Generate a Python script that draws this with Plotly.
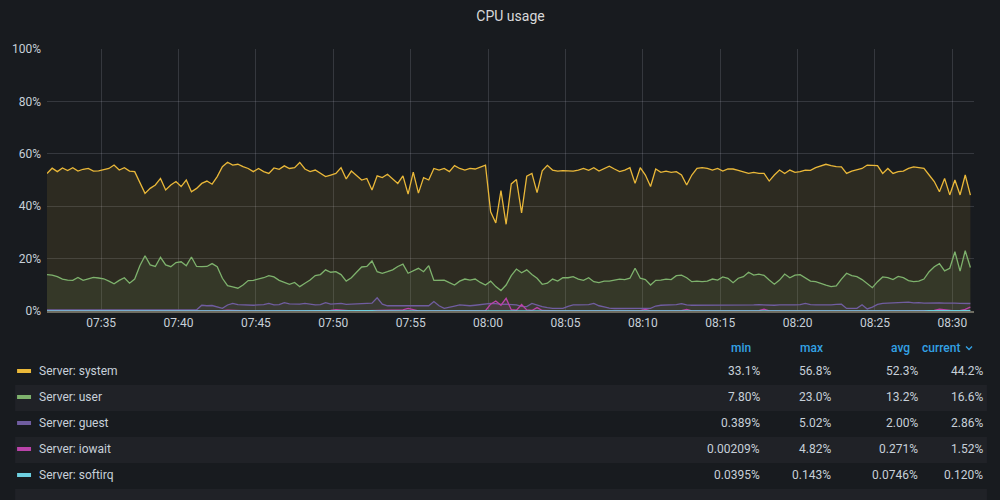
import plotly.graph_objects as go
import pandas as pd

# ---------------- data ----------------
start_time = "2024-01-01 07:31:30"
n_points = 180
step = "20s"

series_names = ["Server: system", "Server: user", "Server: guest", "Server: iowait", "Server: softirq"]
series_colors = ["#EAB839", "#7EB26D", "#705DA0", "#BA43A9", "#6ED0E0"]

system = [
    52.5, 54.5, 53.2, 54.6, 53.6, 54.7, 53.4, 54.1, 54.4, 53.4, 53.5, 53.9, 54.4, 55.7, 53.8, 54.7, 53.4, 53.2, 48.7, 44.9,
    46.8, 48.1, 50.6, 46.2, 48.1, 49.4, 47.5, 50.0, 45.5, 46.8, 48.7, 49.6, 48.4, 51.3, 55.1, 56.8, 55.7, 56.0, 55.1, 54.4,
    53.2, 54.4, 53.2, 52.5, 54.6, 54.1, 55.4, 54.4, 54.7, 56.7, 54.2, 53.2, 53.8, 52.5, 51.3, 51.9, 52.5, 54.7, 50.4, 53.4,
    51.6, 50.0, 50.6, 46.2, 51.6, 50.9, 52.2, 50.6, 48.7, 51.6, 44.6, 53.0, 45.0, 50.9, 50.0, 54.4, 53.8, 54.4, 53.2, 55.5,
    54.4, 53.8, 54.4, 54.2, 55.1, 55.7, 37.9, 33.6, 46.0, 33.1, 48.5, 50.2, 37.4, 51.5, 52.5, 45.2, 53.5, 55.6, 53.8, 53.4,
    53.6, 53.4, 53.4, 53.8, 54.4, 53.7, 54.7, 53.4, 54.2, 55.3, 54.2, 53.2, 53.8, 54.7, 48.7, 54.7, 51.9, 47.5, 54.2, 52.9,
    53.4, 52.9, 53.2, 51.9, 48.1, 51.9, 54.4, 54.7, 54.4, 53.8, 54.4, 53.4, 54.2, 54.2, 53.7, 53.2, 52.5, 52.9, 52.5, 52.5,
    49.6, 51.9, 53.8, 52.5, 53.8, 52.9, 53.2, 53.8, 53.7, 54.7, 55.5, 56.0, 55.5, 55.1, 55.0, 52.5, 53.4, 53.8, 54.4, 55.7,
    55.5, 55.5, 52.5, 54.4, 52.5, 53.2, 53.4, 54.4, 55.0, 54.7, 54.4, 51.9, 49.4, 45.5, 50.6, 44.3, 50.0, 44.3, 51.9, 44.2,
]

user = [
    13.9, 13.7, 13.1, 12.2, 11.8, 11.7, 12.8, 11.7, 12.3, 12.8, 12.6, 12.3, 11.4, 10.4, 11.7, 12.7, 10.6, 12.2, 17.3, 21.1,
    17.6, 17.0, 20.5, 17.6, 16.9, 18.5, 18.8, 17.3, 20.6, 17.0, 16.9, 17.0, 18.1, 16.9, 12.5, 9.7, 9.2, 8.7, 9.9, 11.6,
    11.7, 12.2, 12.7, 13.5, 13.0, 11.7, 10.9, 10.2, 10.9, 9.3, 10.6, 11.8, 13.5, 13.9, 15.7, 14.8, 15.0, 13.9, 11.4, 12.7,
    14.8, 16.8, 17.0, 19.1, 15.0, 14.4, 15.0, 15.7, 17.0, 17.9, 14.4, 15.3, 16.3, 15.0, 17.3, 11.7, 11.8, 11.8, 10.8, 9.9,
    11.4, 12.2, 11.8, 12.2, 10.9, 9.9, 11.4, 9.3, 7.8, 9.9, 13.5, 16.0, 14.6, 15.7, 13.9, 12.5, 10.2, 10.6, 12.2, 11.4,
    12.7, 12.7, 13.1, 12.2, 11.7, 12.7, 11.2, 10.8, 11.4, 11.4, 11.8, 12.2, 12.0, 12.5, 16.3, 12.5, 12.0, 9.9, 11.7, 11.8,
    12.2, 12.0, 13.5, 13.7, 12.7, 11.2, 11.4, 11.2, 11.4, 12.2, 11.8, 13.0, 12.5, 10.8, 12.5, 13.1, 14.8, 13.7, 14.1, 13.6,
    11.8, 10.2, 11.8, 14.1, 12.7, 13.7, 13.9, 12.5, 11.4, 11.2, 10.4, 9.9, 9.3, 9.6, 12.2, 14.4, 13.5, 13.1, 12.0, 10.4,
    8.9, 11.2, 13.0, 12.7, 12.0, 13.2, 12.7, 11.6, 11.2, 11.4, 12.2, 15.0, 16.9, 18.1, 15.3, 16.3, 22.6, 15.2, 23.0, 16.6,
]

guest = [
    0.45, 0.42, 0.48, 0.40, 0.44, 0.46, 0.39, 0.43, 0.47, 0.41, 0.44, 0.45, 0.40, 0.43, 0.48, 0.42, 0.44, 0.46, 0.41, 0.43,
    0.45, 0.40, 0.44, 0.47, 0.42, 0.44, 0.46, 0.41, 0.43, 0.45, 2.2, 2.0, 2.1, 1.4, 1.0, 2.3, 2.9, 2.4, 2.3, 2.3,
    2.2, 2.3, 2.4, 2.9, 2.3, 2.4, 3.2, 2.7, 2.6, 2.6, 2.9, 2.5, 2.3, 2.4, 3.2, 2.6, 2.7, 2.9, 2.5, 2.6,
    2.8, 2.7, 2.9, 3.0, 5.02, 2.6, 2.0, 2.0, 2.0, 2.0, 2.0, 2.0, 2.0, 2.1, 2.0, 3.6, 2.0, 1.0, 1.6, 1.9,
    2.3, 2.1, 2.0, 2.2, 2.5, 2.7, 2.9, 2.8, 2.5, 2.6, 2.4, 2.3, 1.8, 1.7, 2.9, 2.2, 1.7, 1.3, 1.0, 1.0,
    1.0, 1.8, 2.3, 2.3, 2.3, 2.4, 2.9, 2.0, 1.6, 1.1, 0.95, 1.0, 0.95, 1.0, 1.05, 0.95, 1.0, 1.0, 1.9, 2.2,
    2.2, 2.3, 2.4, 2.8, 2.3, 2.2, 2.2, 2.3, 2.2, 2.1, 2.2, 2.3, 2.3, 2.2, 2.2, 2.3, 2.3, 2.3, 2.4, 2.3,
    2.3, 2.2, 2.3, 2.4, 2.3, 2.3, 2.4, 2.9, 2.4, 2.3, 2.3, 2.2, 2.3, 2.5, 2.6, 1.0, 1.0, 1.0, 2.4, 0.8,
    1.5, 2.5, 2.9, 3.0, 3.1, 3.0, 3.2, 3.4, 3.1, 3.2, 3.0, 3.1, 3.2, 3.1, 3.0, 3.1, 3.0, 2.9, 3.0, 2.86,
]

iowait = [
    0.02, 0.03, 0.01, 0.02, 0.04, 0.02, 0.03, 0.02, 0.01, 0.03, 0.02, 0.02, 0.04, 0.03, 0.02, 0.01, 0.03, 0.02, 0.05, 0.03,
    0.02, 0.04, 0.03, 0.02, 0.03, 0.06, 0.04, 0.03, 0.02, 0.05, 0.08, 0.04, 0.03, 0.05, 0.1, 0.3, 0.2, 0.05, 0.03, 0.04,
    0.06, 0.03, 0.05, 0.04, 0.1, 0.06, 0.04, 0.05, 0.03, 0.04, 0.06, 0.05, 0.03, 0.04, 0.05, 0.2, 0.5, 0.3, 0.04, 0.05,
    0.03, 0.06, 0.04, 0.05, 0.03, 0.04, 0.05, 0.06, 0.1, 0.4, 1.0, 0.6, 0.05, 0.03, 0.04, 0.06, 0.05, 0.04, 0.03, 0.05,
    0.04, 0.06, 0.05, 0.08, 0.05, 0.1, 2.6, 3.8, 2.2, 4.82, 0.5, 0.3, 2.5, 0.4, 0.2, 1.3, 0.2, 0.08, 0.05, 0.04,
    0.06, 0.04, 0.05, 0.03, 0.05, 0.04, 0.06, 0.03, 0.05, 0.04, 0.03, 0.05, 0.04, 0.06, 0.05, 0.1, 0.6, 0.08, 0.04, 0.05,
    0.03, 0.04, 0.06, 0.1, 0.6, 0.08, 0.04, 0.03, 0.05, 0.04, 0.002, 0.03, 0.05, 0.04, 0.03, 0.05, 0.04, 0.06, 0.1, 0.7,
    0.08, 0.04, 0.05, 0.03, 0.04, 0.05, 0.03, 0.04, 0.06, 0.03, 0.05, 0.04, 0.03, 0.05, 0.04, 0.06, 0.03, 0.05, 0.04, 0.03,
    0.05, 0.04, 0.06, 0.03, 0.05, 0.04, 0.03, 0.05, 0.04, 0.06, 0.1, 0.3, 0.2, 0.7, 0.5, 0.1, 0.05, 0.1, 0.6, 1.52,
]

softirq = [
    0.07, 0.06, 0.08, 0.07, 0.05, 0.07, 0.09, 0.06, 0.07, 0.08, 0.06, 0.07, 0.05, 0.08, 0.07, 0.06, 0.09, 0.07, 0.06, 0.08,
    0.07, 0.05, 0.06, 0.08, 0.07, 0.10, 0.06, 0.07, 0.08, 0.06, 0.07, 0.05, 0.07, 0.09, 0.06, 0.08, 0.07, 0.06, 0.07, 0.08,
    0.06, 0.07, 0.0395, 0.08, 0.07, 0.06, 0.09, 0.07, 0.08, 0.06, 0.07, 0.08, 0.06, 0.07, 0.05, 0.07, 0.08, 0.06, 0.09, 0.07,
    0.08, 0.06, 0.07, 0.09, 0.07, 0.06, 0.08, 0.07, 0.11, 0.08, 0.07, 0.06, 0.08, 0.07, 0.09, 0.06, 0.07, 0.08, 0.06, 0.07,
    0.07, 0.08, 0.06, 0.09, 0.07, 0.08, 0.143, 0.10, 0.09, 0.11, 0.08, 0.07, 0.09, 0.08, 0.07, 0.06, 0.08, 0.07, 0.06, 0.08,
    0.07, 0.06, 0.08, 0.07, 0.05, 0.07, 0.08, 0.06, 0.07, 0.09, 0.07, 0.06, 0.08, 0.07, 0.06, 0.07, 0.08, 0.06, 0.07, 0.08,
    0.06, 0.07, 0.08, 0.07, 0.09, 0.07, 0.06, 0.08, 0.07, 0.06, 0.07, 0.05, 0.08, 0.07, 0.06, 0.08, 0.07, 0.09, 0.07, 0.06,
    0.08, 0.07, 0.06, 0.07, 0.08, 0.06, 0.07, 0.09, 0.07, 0.08, 0.06, 0.07, 0.08, 0.07, 0.06, 0.08, 0.07, 0.06, 0.07, 0.08,
    0.07, 0.08, 0.06, 0.07, 0.09, 0.08, 0.07, 0.08, 0.09, 0.07, 0.08, 0.09, 0.10, 0.08, 0.09, 0.11, 0.10, 0.09, 0.11, 0.120,
]

x_tick_labels = ["07:35", "07:40", "07:45", "07:50", "07:55", "08:00",
                 "08:05", "08:10", "08:15", "08:20", "08:25", "08:30"]
y_tick_values = [0, 20, 40, 60, 80, 100]
y_tick_labels = ["0%", "20%", "40%", "60%", "80%", "100%"]

stat_headers = ["min", "max", "avg", "current"]
stat_min = ["33.1%", "7.80%", "0.389%", "0.00209%", "0.0395%"]
stat_max = ["56.8%", "23.0%", "5.02%", "4.82%", "0.143%"]
stat_avg = ["52.3%", "13.2%", "2.00%", "0.271%", "0.0746%"]
stat_cur = ["44.2%", "16.6%", "2.86%", "1.52%", "0.120%"]

# ---------------- figure ----------------
times = pd.date_range(start_time, periods=n_points, freq=step)
series_values = [system, user, guest, iowait, softirq]

BG = "#181b1f"
TEXT = "#c7d0d9"
GRID = "rgba(204,204,220,0.17)"
FONT = "Roboto"

W, H = 1000, 500
L, R, T, B = 45, 26, 49, 189
PW, PH = W - L - R, H - T - B


def hex_rgba(h, a):
    h = h.lstrip("#")
    r, g, b = int(h[0:2], 16), int(h[2:4], 16), int(h[4:6], 16)
    return f"rgba({r},{g},{b},{a})"


def xp(px):
    return (px - L) / PW


def yp(py):
    return (H - B - py) / PH


fig = go.Figure()
for name, vals, col in zip(series_names, series_values, series_colors):
    fig.add_trace(go.Scatter(
        x=times, y=vals, name=name, mode="lines",
        line=dict(color=col, width=1.3),
        fill="tozeroy", fillcolor=hex_rgba(col, 0.10),
        hoverinfo="skip",
    ))

day = start_time.split(" ")[0]
tick_vals = [pd.Timestamp(f"{day} {t}") for t in x_tick_labels]
x0 = pd.Timestamp(start_time)
x1 = x0 + pd.Timedelta(seconds=3594)

fig.update_layout(
    width=W, height=H,
    margin=dict(l=L, r=R, t=T, b=B),
    paper_bgcolor=BG, plot_bgcolor=BG,
    showlegend=False,
    font=dict(family=FONT, size=12, color=TEXT),
    title=dict(text="CPU usage", x=0.5, xanchor="center", xref="paper",
               y=1 - 16 / H, yanchor="middle", yref="container",
               font=dict(family=FONT, size=14, color="#d8d9da")),
    xaxis=dict(type="date", range=[x0, x1], tickvals=tick_vals, ticktext=x_tick_labels,
               showgrid=True, gridcolor=GRID, gridwidth=1, zeroline=False,
               showline=True, linecolor="#6e6d62", linewidth=2, layer="above traces",
               ticks="", tickfont=dict(size=12, color=TEXT), fixedrange=True),
    yaxis=dict(range=[0, 100], tickvals=y_tick_values, ticktext=y_tick_labels,
               showgrid=True, gridcolor=GRID, gridwidth=1, zeroline=False,
               ticks="", tickfont=dict(size=12, color=TEXT), fixedrange=True,
               ticklabelstandoff=5),
)

# ---------------- legend table ----------------
shapes = []
annotations = []
row_y = [371, 397, 423, 449, 475]

# alternating row backgrounds
for y_top, y_bot in [(385, 411), (437, 463), (489, 500)]:
    shapes.append(dict(type="rect", xref="paper", yref="paper",
                       x0=xp(13), x1=xp(987), y0=yp(y_bot), y1=yp(y_top),
                       fillcolor="#202227", line=dict(width=0), layer="below"))

for i, (name, col) in enumerate(zip(series_names, series_colors)):
    cy = row_y[i]
    shapes.append(dict(type="rect", xref="paper", yref="paper",
                       x0=xp(15), x1=xp(29), y0=yp(cy + 2), y1=yp(cy - 2),
                       fillcolor=col, line=dict(width=0)))
    annotations.append(dict(text=name, xref="paper", yref="paper",
                            x=xp(35), y=yp(cy), xanchor="left", yanchor="middle",
                            showarrow=False, font=dict(family=FONT, size=12, color=TEXT)))
    for vals, rx in [(stat_min, 762), (stat_max, 833), (stat_avg, 920), (stat_cur, 985)]:
        annotations.append(dict(text=vals[i], xref="paper", yref="paper",
                                x=xp(rx), y=yp(cy), xanchor="right", yanchor="middle",
                                showarrow=False, font=dict(family=FONT, size=12, color=TEXT)))

for hdr, rx in zip(stat_headers, [753, 825, 912, 962]):
    annotations.append(dict(text=hdr, xref="paper", yref="paper",
                            x=xp(rx), y=yp(348), xanchor="right", yanchor="middle",
                            showarrow=False,
                            font=dict(family=FONT, size=12, color="#33a2e5", weight=500)))

# sort chevron next to "current"
shapes.append(dict(type="path", xref="paper", yref="paper",
                   path=f"M {xp(966)} {yp(346.5)} L {xp(969)} {yp(349.5)} L {xp(972)} {yp(346.5)}",
                   line=dict(color="#33a2e5", width=1.3)))

fig.update_layout(shapes=shapes, annotations=annotations)

fig.write_html("out.html", config={"displayModeBar": False})
